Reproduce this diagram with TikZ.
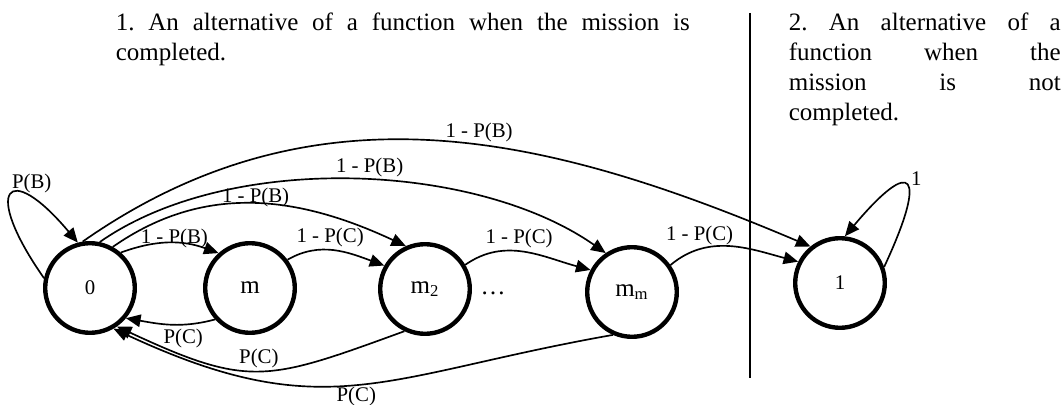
\documentclass[tikz,border=0pt]{standalone}
\usepackage{fontspec}
\setmainfont{Liberation Serif}
\usetikzlibrary{arrows.meta}

\begin{document}
\frenchspacing
\begin{tikzpicture}[
  x=0.48pt, y=-0.48pt,
  ->, >={Triangle[length=7pt,width=6pt]}, line width=0.8pt,
  st/.style={draw, circle, line width=2.1pt, minimum size=43pt, inner sep=0pt,
             font=\fontsize{12}{14}\selectfont},
  dig/.style={font=\fontsize{10}{12}\selectfont},
  lbl/.style={font=\fontsize{10}{12}\selectfont, inner sep=1pt},
  txt/.style={anchor=base west, inner sep=0pt, align=justify,
              font=\fontsize{12}{14.4}\selectfont},
]
\useasboundingbox (0,0) rectangle (1062,405);

% captions of the two cases
\node[txt, text width=275.5pt] (cap1) at (115,31)
  {1. An alternative of a function when the mission is\linebreak completed.};
\node[txt, text width=130.5pt] (cap2) at (788,31)
  {2. An alternative of a\linebreak function when the\linebreak mission is not\linebreak completed.};

% separator
\coordinate (sepTop) at (750,13);
\coordinate (sepBot) at (750,378);
\draw[-, line width=1pt] (sepTop) -- (sepBot);

% states, left to right
\node[st, dig] (S0)  at (90,288)  {0};
\node[st]      (Sm)  at (250,288) {m};
\node[st]      (Sm2) at (425,289) {m\textsubscript{2}};
\node[st]      (Smm) at (632,292) {m\textsubscript{m}};
\node[st, dig] (S1)  at (840,283) {1};
\node[font=\fontsize{12}{14}\selectfont] (dots) at (493,293) {\dots};

% --- self loops ---
\draw (S0.168) to[out=125, in=130, looseness=5.7]
      node[lbl, pos=0.62, above=-1pt, xshift=6pt] (lPB) {P(B)} (S0.105);
\draw (S1.20) to[out=65, in=50, looseness=5.4]
      node[lbl, pos=0.45, above right] (lOne) {1} (S1.84);

% --- forward arcs out of 0 ---
\draw (S0.49) to[out=20, in=160]
      node[lbl, pos=0.55, yshift=2pt] (lB1) {1 - P(B)} (Sm.132);
\draw (S0.61) to[out=35, in=155]
      node[lbl, pos=0.5, yshift=3pt] (lB2) {1 - P(B)} (Sm2.114);
\draw (S0.78) to[out=35, in=145, looseness=0.8]
      node[lbl, pos=0.53, above] (lB3) {1 - P(B)} (Smm.124);
\draw (S0.99) to[out=35, in=157]
      node[lbl, pos=0.56, above] (lB4) {1 - P(B)} (S1.129);

% --- forward arcs along the chain ---
\draw (Sm.37) to[out=30, in=160]
      node[lbl, pos=0.45, above] (lC1) {1 - P(C)} (Sm2.150);
\draw (Sm2.31) to[out=35, in=165]
      node[lbl, pos=0.45, above] (lC2) {1 - P(C)} (Smm.152);
\draw (Smm.35) to[out=40, in=165]
      node[lbl, pos=0.3, above, xshift=-3pt] (lC3) {1 - P(C)} (S1.153);

% --- back to 0 ---
\draw (Sm.222) to[out=195, in=-10]
      node[lbl, pos=0.35, below=1pt] (lC4) {P(C)} (S0.-40);
\draw (Sm2.244) to[out=200, in=-25, looseness=1.3]
      node[lbl, pos=0.5, above] (lC5) {P(C)} (S0.-55);
\draw (Smm.246) to[out=190, in=-25, looseness=1.2]
      node[lbl, pos=0.5, below] (lC6) {P(C)} (S0.-60);
\end{tikzpicture}
\end{document}
